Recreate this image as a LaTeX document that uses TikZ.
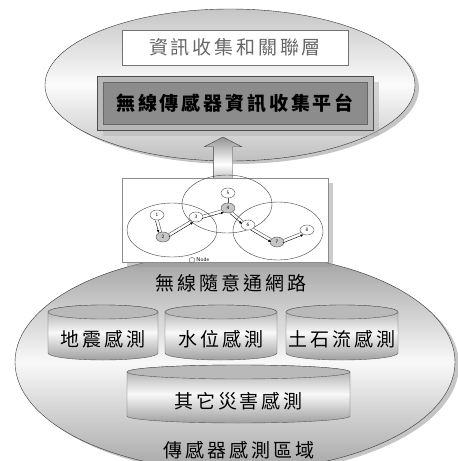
\documentclass[tikz,border=0pt]{standalone}
\usepackage{fontspec}
\newfontfamily\cjk[LetterSpace=15]{Noto Sans CJK TC}
\usetikzlibrary{arrows.meta,positioning,shapes.geometric,shapes.arrows,shadows,calc}

\begin{document}
\begin{tikzpicture}[x=1pt,y=-1pt,>=Latex,
  font=\cjk\fontsize{19pt}{19pt}\selectfont,
  area/.style={ellipse,draw=black!80,thin,inner sep=0pt},
  layer/.style={draw=black!55,fill=white,minimum width=226pt,minimum height=35pt,text=black!60},
  platform/.style={draw=black!70,fill=black!28,minimum width=276pt,minimum height=54pt,
    font=\cjk\bfseries\fontsize{19pt}{19pt}\selectfont,
    drop shadow={shadow xshift=6pt,shadow yshift=-6pt,fill=black!30},
    path picture={
      \draw[black!60,fill=black!45]
        ([shift={(6pt,-6pt)}]path picture bounding box.north west) rectangle
        ([shift={(-6pt,6pt)}]path picture bounding box.south east);}},
  drum/.style={draw=black!65,thin,top color=gray!75,bottom color=gray!75,middle color=gray!5},
  drumtop/.style={draw=black!65,thin,fill=gray!55},
  hop/.style={ellipse,draw=black!70,thin,fill=white,minimum width=14pt,minimum height=10pt,
    inner sep=0pt,font=\sffamily\fontsize{5pt}{5pt}\selectfont},
  relay/.style={hop,fill=gray!45},
  cover/.style={draw=black!75,thin}]
  \useasboundingbox (0,0) rectangle (458,461);
  \clip (0,0) rectangle (458,461);
  % sensing area (bottom)
  \node[area,minimum width=440pt,minimum height=218pt,top color=gray!75,bottom color=gray!70,
    middle color=gray!5,drop shadow={shadow xshift=4pt,shadow yshift=-3pt,fill=black!45}]
    (field) at (235,362) {};
  % collection layer (top)
  \node[area,minimum width=370pt,minimum height=152pt,top color=gray!45,bottom color=gray!50,
    middle color=gray!3,drop shadow={shadow xshift=4pt,shadow yshift=-3pt,fill=black!45}]
    (upper) at (230,85) {};
  \node[layer] (layername) at (235,47.5) {資訊收集和關聯層};
  \node[platform] (plat) at (235,103) {無線傳感器資訊收集平台};
  % link between the two layers
  \node[double arrow,rotate=90,draw=black!75,thin,minimum height=54pt,inner sep=9.5pt,
    double arrow head extend=9pt,double arrow tip angle=125,
    top color=gray!85,bottom color=gray!85,middle color=white] (updown) at (223,164) {};
  % ad hoc network sketch
  \node[draw=black!45,fill=white,minimum width=206pt,minimum height=84pt,
    drop shadow={shadow xshift=5pt,shadow yshift=-5pt,fill=black!40}] (netbox) at (225,220) {};
  \draw[cover] (172,230) ellipse (45pt and 27pt);
  \draw[cover] (227,204) ellipse (45pt and 29pt);
  \draw[cover] (278,231) ellipse (45pt and 29pt);
  \node[hop] (n1) at (157,215) {1};
  \node[relay] (n2) at (163,237) {2};
  \node[hop] (n3) at (196,217) {3};
  \node[relay] (n4) at (228,208) {4};
  \node[hop] (n5) at (228,193) {5};
  \node[hop] (n6) at (248,225) {6};
  \node[relay] (n7) at (277,242) {7};
  \node[hop] (n8) at (307,230) {8};
  \draw[black!70] (n5) -- (n4);
  \foreach \a/\b in {n1/n2,n2/n3,n3/n4,n4/n6,n6/n7,n7/n8} {
    \draw[black!70] (\a) -- (\b);
    \draw[->,>={Latex[length=3pt,width=2.5pt]},shorten <=5pt,shorten >=5pt]
      ($(\a)!3pt!-90:(\b)$) -- ($(\b)!3pt!90:(\a)$);
  }
  \node[hop,minimum width=6pt,minimum height=5pt] (key) at (192,260) {};
  \node[right=1pt of key,inner sep=0pt,font=\sffamily\fontsize{5.5pt}{6pt}\selectfont] (keytext) {Node};
  % sensing area: label and the four sensor drums
  \node (netname) at (231,283) {無線隨意通網路};
  \foreach \s/\cx/\cy/\w/\h in {quake/103/332.5/110/55,water/221/332.5/112/55,
      debris/342/332.5/112/55,other/238.5/394/223/58} {
    \coordinate (\s) at (\cx,\cy);
    \draw[drum] ({\cx-\w/2},{\cy-\h/2+7}) -- ({\cx-\w/2},{\cy+\h/2-7})
      arc[start angle=180,end angle=0,x radius=\w/2,y radius=7]
      -- ({\cx+\w/2},{\cy-\h/2+7})
      arc[start angle=0,end angle=-180,x radius=\w/2,y radius=7] -- cycle;
    \draw[drumtop] (\cx,{\cy-\h/2+7}) ellipse ({\w/2} and 7);
  }
  \node[inner sep=0pt] (quaketext) at ($(quake)+(0,7)$) {地震感測};
  \node[inner sep=0pt] (watertext) at ($(water)+(0,7)$) {水位感測};
  \node[inner sep=0pt] (debristext) at ($(debris)+(0,7)$) {土石流感測};
  \node[inner sep=0pt] (othertext) at ($(other)+(0,7)$) {其它災害感測};
  \node (fieldname) at (239,450) {傳感器感測區域};
\end{tikzpicture}
\end{document}
